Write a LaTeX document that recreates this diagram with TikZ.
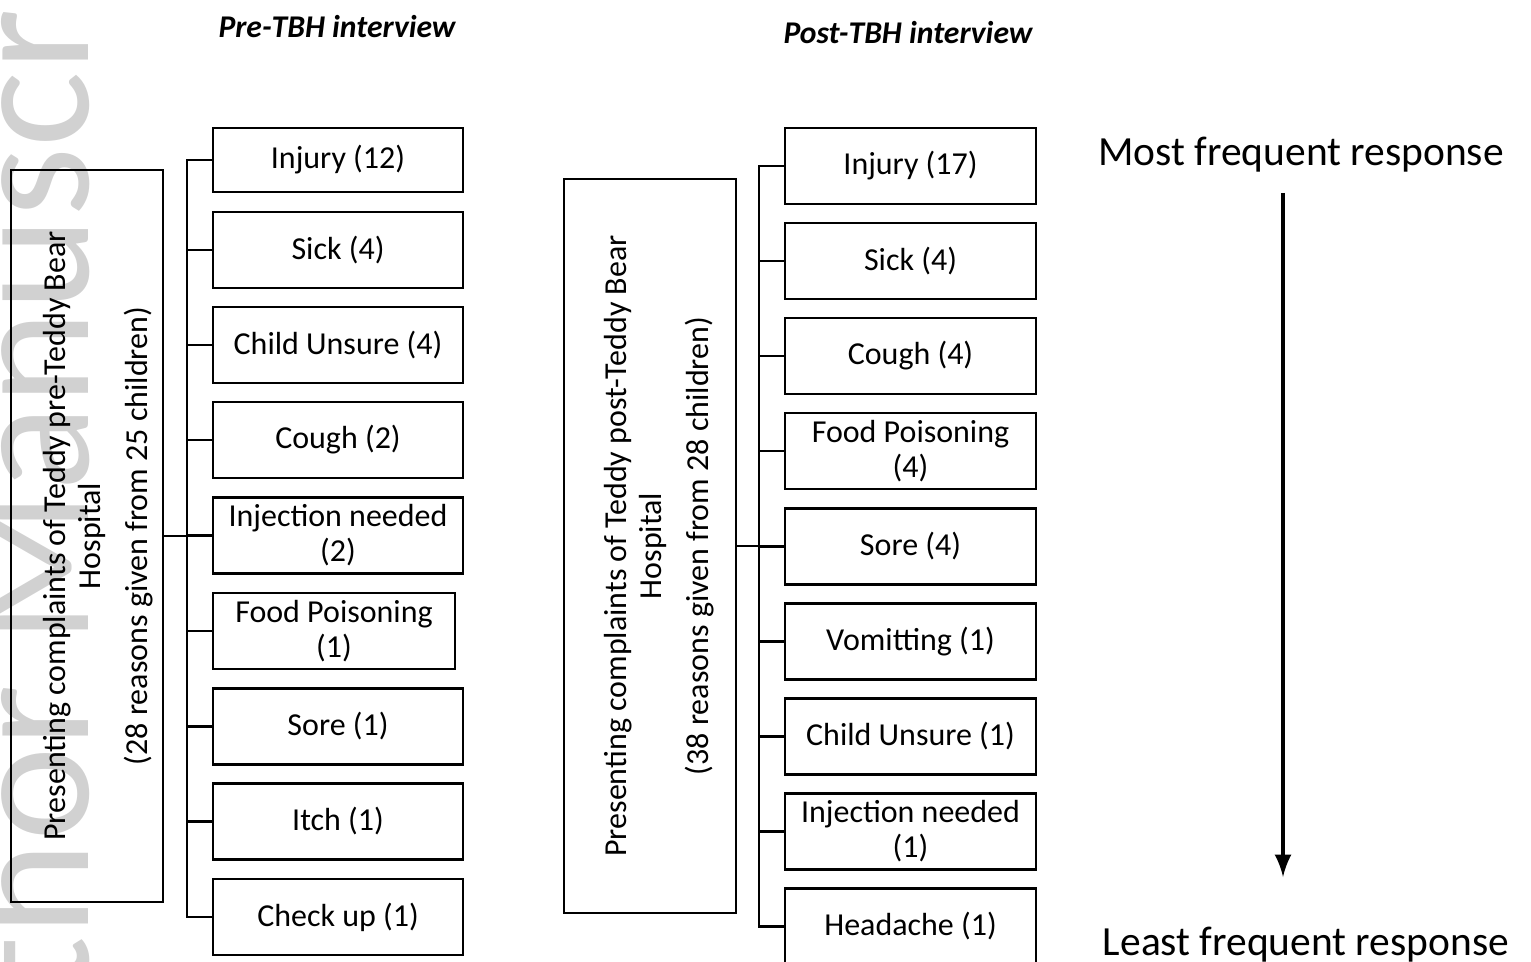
\documentclass[tikz,border=0pt]{standalone}
\usepackage{fontspec}
\setmainfont{Carlito}
\usepackage{tikz}
\usetikzlibrary{
    arrows
}
\newcommand{\boxfont}{\fontsize{9.1}{10}\selectfont}
\newcommand{\headfont}{\fontsize{9}{10}\selectfont\bfseries\itshape}
\newcommand{\freqfont}{\fontsize{11.8}{13}\selectfont}
\newcommand{\markfont}{\fontsize{51}{51}\selectfont}
\tikzset{
    reason/.style={draw, line width=0.7pt, minimum width=2.5cm, minimum height=0.76cm, inner sep=1pt, align=center, font=\boxfont},
    groupbox/.style={draw, line width=0.7pt},
    grouptext/.style={rotate=90, align=center, font=\boxfont},
    heading/.style={font=\headfont},
    freq/.style={font=\freqfont},
    bus/.style={line width=0.6pt}
}

\begin{document}
\begin{tikzpicture}
        \useasboundingbox (0,0) rectangle (15.31,-9.62);
        \clip (0,0) rectangle (15.31,-9.62);

        % watermark behind everything
        \draw (0.88,-5.04) node[rotate=90, anchor=base, text=black!18, font=\markfont](mark){Author Manuscript};

        \draw (3.37,-0.27) node[heading](pre){Pre-TBH interview};
        \draw (9.08,-0.33) node[heading](post){Post-TBH interview};

        % pre-TBH side
        \draw (0.87,-5.36) node[groupbox, minimum width=1.52cm, minimum height=7.32cm](lmain){};
        \draw (0.98,-5.36) node[grouptext](ltext){Presenting complaints of Teddy pre-Teddy Bear\\Hospital\\[0.12cm](28 reasons given from 25 children)};

        \draw (3.38,-1.60) node[reason, minimum height=0.64cm](l1){Injury (12)};
        \draw (3.38,-2.50) node[reason](l2){Sick (4)};
        \draw (3.38,-3.45) node[reason](l3){Child Unsure (4)};
        \draw (3.38,-4.40) node[reason](l4){Cough (2)};
        \draw (3.38,-5.355) node[reason](l5){Injection needed\\(2)};
        \draw (3.34,-6.31) node[reason, minimum width=2.42cm](l6){Food Poisoning\\(1)};
        \draw (3.38,-7.265) node[reason](l7){Sore (1)};
        \draw (3.38,-8.215) node[reason](l8){Itch (1)};
        \draw (3.38,-9.17) node[reason](l9){Check up (1)};

        \draw[bus] (lmain.east) -- ++(0.25,0);
        \draw[bus] (l1.west) -- ++(-0.25,0) |- (l9.west);
        \draw[bus] (l2.west) -- ++(-0.25,0);
        \draw[bus] (l3.west) -- ++(-0.25,0);
        \draw[bus] (l4.west) -- ++(-0.25,0);
        \draw[bus] (l5.west) -- ++(-0.25,0);
        \draw[bus] (l6.west) -- ++(-0.25,0);
        \draw[bus] (l7.west) -- ++(-0.25,0);
        \draw[bus] (l8.west) -- ++(-0.25,0);

        % post-TBH side
        \draw (6.50,-5.46) node[groupbox, minimum width=1.72cm, minimum height=7.34cm](rmain){};
        \draw (6.59,-5.46) node[grouptext](rtext){Presenting complaints of Teddy post-Teddy Bear\\Hospital\\[0.12cm](38 reasons given from 28 children)};

        \draw (9.105,-1.66) node[reason, minimum width=2.51cm](r1){Injury (17)};
        \draw (9.105,-2.61) node[reason, minimum width=2.51cm](r2){Sick (4)};
        \draw (9.105,-3.56) node[reason, minimum width=2.51cm](r3){Cough (4)};
        \draw (9.105,-4.51) node[reason, minimum width=2.51cm](r4){Food Poisoning\\(4)};
        \draw (9.105,-5.465) node[reason, minimum width=2.51cm](r5){Sore (4)};
        \draw (9.105,-6.415) node[reason, minimum width=2.51cm](r6){Vomitting (1)};
        \draw (9.105,-7.365) node[reason, minimum width=2.51cm](r7){Child Unsure (1)};
        \draw (9.105,-8.315) node[reason, minimum width=2.51cm](r8){Injection needed\\(1)};
        \draw (9.105,-9.265) node[reason, minimum width=2.51cm](r9){Headache (1)};

        \draw[bus] (rmain.east) -- ++(0.24,0);
        \draw[bus] (r1.west) -- ++(-0.25,0) |- (r9.west);
        \draw[bus] (r2.west) -- ++(-0.25,0);
        \draw[bus] (r3.west) -- ++(-0.25,0);
        \draw[bus] (r4.west) -- ++(-0.25,0);
        \draw[bus] (r5.west) -- ++(-0.25,0);
        \draw[bus] (r6.west) -- ++(-0.25,0);
        \draw[bus] (r7.west) -- ++(-0.25,0);
        \draw[bus] (r8.west) -- ++(-0.25,0);

        % frequency scale
        \draw (13.01,-1.55) node[freq](most){Most frequent response};
        \draw (13.06,-9.45) node[freq](least){Least frequent response};
        \coordinate (arrtop) at (12.83,-1.93);
        \coordinate (arrbot) at (12.83,-8.77);
        \draw[-latex, line width=1.2pt] (arrtop) -- (arrbot);
    \end{tikzpicture}
\end{document}
